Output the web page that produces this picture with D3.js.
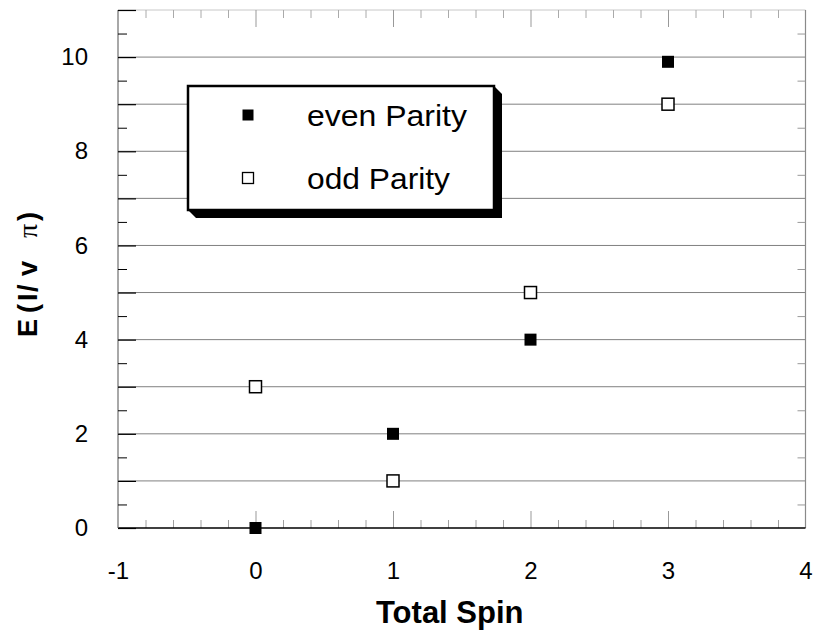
<!DOCTYPE html>
<html>
<head>
<meta charset="utf-8">
<script src="https://cdn.jsdelivr.net/npm/d3@7"></script>
<style>
  html, body { margin: 0; padding: 0; background: #fff; }
  svg { display: block; font-family: "Liberation Sans", Arial, Helvetica, sans-serif; }
</style>
</head>
<body>
<svg id="chart" width="816" height="635"></svg>
<script>
// Energy levels by total spin, split by parity
const spins = [0, 1, 2, 3];
const evenParity = [0, 2, 4, 9.9];
const oddParity = [3, 1, 5, 9];

const xTicks = [-1, 0, 1, 2, 3, 4];
const yTicks = [0, 1, 2, 3, 4, 5, 6, 7, 8, 9, 10, 11];
const yLabelled = [0, 2, 4, 6, 8, 10];

const seriesNames = ["even Parity", "odd Parity"];

const svg = d3.select("#chart");

const x = d3.scaleLinear().domain([-1, 4]).range([118, 805.5]);
const y = d3.scaleLinear().domain([0, 11]).range([528, 10]);

const [x0, x1] = x.range();
const [yb, yt] = y.range();

const minorX = d3.range(-1, 4.0001, 0.2).map(v => +v.toFixed(1)).filter(v => !Number.isInteger(v));
const minorY = d3.range(0.5, 11, 1);

// horizontal grid lines
svg.append("g")
  .selectAll("line")
  .data(yTicks.filter(v => v > 0))
  .join("line")
  .attr("x1", x0).attr("x2", x1)
  .attr("y1", d => y(d)).attr("y2", d => y(d))
  .attr("stroke", d => d === 11 ? "#c8c8c8" : "#808080")
  .attr("stroke-width", 1);

// right frame + ticks
svg.append("line")
  .attr("x1", x1).attr("x2", x1).attr("y1", yt).attr("y2", yb)
  .attr("stroke", "#8a8a8a").attr("stroke-width", 1.2);
svg.append("g")
  .attr("transform", `translate(${x1},0)`)
  .call(d3.axisRight(y).tickValues(minorY).tickSize(-8).tickFormat(""))
  .call(g => g.select(".domain").remove())
  .call(g => g.selectAll("line").attr("stroke", "#999"));

// top ticks
svg.append("g")
  .attr("transform", `translate(0,${yt})`)
  .call(d3.axisBottom(x).tickValues(minorX).tickSize(8).tickFormat(""))
  .call(g => g.select(".domain").remove())
  .call(g => g.selectAll("line").attr("stroke", "#aaa"));
svg.append("g")
  .attr("transform", `translate(0,${yt})`)
  .call(d3.axisBottom(x).tickValues(xTicks.slice(1, -1)).tickSize(17).tickFormat(""))
  .call(g => g.select(".domain").remove())
  .call(g => g.selectAll("line").attr("stroke", "#999"));

// bottom axis
svg.append("g")
  .attr("transform", `translate(0,${yb})`)
  .call(d3.axisTop(x).tickValues(minorX).tickSize(8).tickFormat(""))
  .call(g => g.select(".domain").remove())
  .call(g => g.selectAll("line").attr("stroke", "#a0a0a0"));
const xAxis = svg.append("g")
  .attr("transform", `translate(0,${yb})`)
  .call(d3.axisTop(x).tickValues(xTicks).tickSize(17).tickFormat(d => String(d)))
  .call(g => g.select(".domain").remove());
xAxis.selectAll("line").attr("stroke", d => (d === -1 || d === 4) ? "none" : "#999");
xAxis.selectAll("text")
  .attr("font-size", 24).attr("fill", "#000")
  .attr("font-family", "'Liberation Sans', Arial, sans-serif")
  .attr("dy", "0.35em")
  .attr("y", 43);
svg.append("line")
  .attr("x1", x0).attr("x2", x1).attr("y1", yb).attr("y2", yb)
  .attr("stroke", "#000").attr("stroke-width", 1.6);

// left axis
svg.append("line")
  .attr("x1", x0).attr("x2", x0).attr("y1", yt).attr("y2", yb)
  .attr("stroke", "#6e6e6e").attr("stroke-width", 1.2);
svg.append("g")
  .attr("transform", `translate(${x0},0)`)
  .call(d3.axisLeft(y).tickValues(minorY).tickSize(-9).tickFormat(""))
  .call(g => g.select(".domain").remove())
  .call(g => g.selectAll("line").attr("stroke", "#000"));
const yAxis = svg.append("g")
  .attr("transform", `translate(${x0},0)`)
  .call(d3.axisLeft(y).tickValues(yTicks).tickSize(-18).tickPadding(30)
    .tickFormat(d => yLabelled.includes(d) ? String(d) : ""))
  .call(g => g.select(".domain").remove());
yAxis.selectAll("line").attr("stroke", "#000").attr("stroke-width", 1.2);
yAxis.selectAll("text")
  .attr("font-size", 24).attr("fill", "#000")
  .attr("font-family", "'Liberation Sans', Arial, sans-serif");

// axis titles
svg.append("text")
  .attr("x", (x0 + x1) / 2 - 12).attr("y", 623)
  .attr("text-anchor", "middle")
  .attr("font-size", 31).attr("font-weight", "bold")
  .text("Total Spin");

// vertical title, glyphs spaced along the rotated baseline
const yTitleGlyphs = [
  { t: "E", at: 0 }, { t: "(", at: 24 }, { t: "I", at: 36 }, { t: "/", at: 45 },
  { t: "v", at: 61 }, { t: "\u03C0", at: 99, serif: true }, { t: ")", at: 116 }
];
svg.append("text")
  .attr("transform", `translate(37,337) rotate(-90)`)
  .attr("font-size", 27).attr("font-weight", "bold")
  .selectAll("tspan")
  .data(yTitleGlyphs)
  .join("tspan")
  .attr("x", d => d.at)
  .attr("font-family", d => d.serif ? "'Liberation Serif', 'DejaVu Serif', serif" : null)
  .attr("font-weight", d => d.serif ? "normal" : null)
  .attr("font-size", d => d.serif ? 28 : null)
  .text(d => d.t);

// data markers
const size = 12;
const pts = spins.flatMap((s, i) => [
  { s, v: evenParity[i], filled: true },
  { s, v: oddParity[i], filled: false }
]);
svg.append("g")
  .selectAll("rect")
  .data(pts)
  .join("rect")
  .attr("x", d => x(d.s) - size / 2)
  .attr("y", d => y(d.v) - size / 2)
  .attr("width", size).attr("height", size)
  .attr("fill", d => d.filled ? "#000" : "#fff")
  .attr("stroke", "#000")
  .attr("stroke-width", d => d.filled ? 0 : 1.5);

// legend with drop shadow
const lg = svg.append("g");
const bx = 188, by = 86, bw = 306, bh = 124, sh = 8;
lg.append("polygon")
  .attr("points", [
    [bx + bw, by], [bx + bw + sh, by + sh], [bx + bw + sh, by + bh + sh],
    [bx + sh, by + bh + sh], [bx, by + bh]
  ].map(p => p.join(",")).join(" "))
  .attr("fill", "#000");
lg.append("rect")
  .attr("x", bx).attr("y", by).attr("width", bw).attr("height", bh)
  .attr("fill", "#fff").attr("stroke", "#000").attr("stroke-width", 2.5);

const legendRows = lg.selectAll("g.row")
  .data(seriesNames)
  .join("g")
  .attr("class", "row")
  .attr("transform", (d, i) => `translate(0,${i === 0 ? 115 : 178})`);
legendRows.append("rect")
  .attr("x", 248 - 5.5).attr("y", -5.5)
  .attr("width", 11).attr("height", 11)
  .attr("fill", (d, i) => i === 0 ? "#000" : "#fff")
  .attr("stroke", "#000")
  .attr("stroke-width", (d, i) => i === 0 ? 0 : 1.3);
legendRows.append("text")
  .attr("x", 307).attr("y", 11)
  .attr("font-size", 29)
  .attr("textLength", (d, i) => i === 0 ? 160 : 143)
  .attr("lengthAdjust", "spacingAndGlyphs")
  .text(d => d);
</script>
</body>
</html>
